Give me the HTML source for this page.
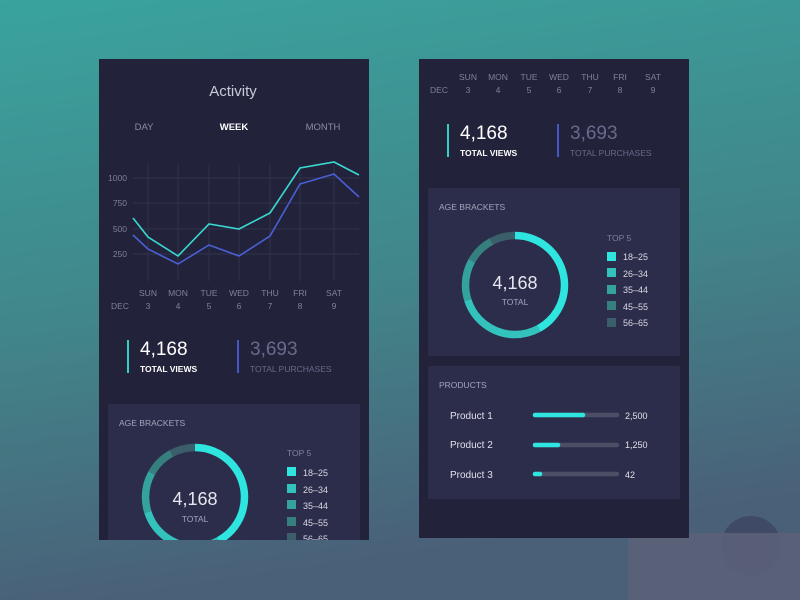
<!DOCTYPE html>
<html><head><meta charset="utf-8"><style>
html,body{margin:0;padding:0;width:800px;height:600px;overflow:hidden}
svg{display:block}
text{font-family:"Liberation Sans",sans-serif}
</style></head><body>
<svg width="800" height="600" viewBox="0 0 800 600" xmlns="http://www.w3.org/2000/svg">
<defs>
<linearGradient id="bg" x1="0" y1="0" x2="0.2" y2="1">
<stop offset="0" stop-color="#3aa39d"/><stop offset="0.55" stop-color="#418589"/><stop offset="1" stop-color="#4a5f78"/>
</linearGradient>
<clipPath id="lc"><rect x="99" y="59" width="270" height="481"/></clipPath>
</defs>
<rect width="800" height="600" fill="url(#bg)"/>
<circle cx="751" cy="546" r="30" fill="#3f4a66"/>
<rect x="628" y="533" width="172" height="67" fill="#5c6279" opacity="0.85"/>
<!-- LEFT PANEL -->
<rect x="99" y="59" width="270" height="481" fill="#22233a"/>
<g clip-path="url(#lc)">
<text x="233" y="96" fill="#c9cad8" font-size="15" text-anchor="middle">Activity</text>
<text x="144" y="130" fill="#8a8ca4" font-size="9.5" text-anchor="middle">DAY</text>
<text x="234" y="130" fill="#ffffff" font-size="9.5" font-weight="bold" text-anchor="middle">WEEK</text>
<text x="323" y="130" fill="#8a8ca4" font-size="9.5" text-anchor="middle">MONTH</text>
<g stroke="#30324e" stroke-width="1">
<line x1="133" y1="178" x2="359" y2="178"/><line x1="133" y1="203" x2="359" y2="203"/>
<line x1="133" y1="229" x2="359" y2="229"/><line x1="133" y1="254" x2="359" y2="254"/>
<line x1="148" y1="165" x2="148" y2="281"/><line x1="178" y1="165" x2="178" y2="281"/>
<line x1="209" y1="165" x2="209" y2="281"/><line x1="239" y1="165" x2="239" y2="281"/>
<line x1="270" y1="165" x2="270" y2="281"/><line x1="300" y1="165" x2="300" y2="281"/>
<line x1="334" y1="165" x2="334" y2="281"/>
</g>
<g fill="#7f8199" font-size="8.5" text-anchor="end">
<text x="127" y="181">1000</text><text x="127" y="206">750</text><text x="127" y="232">500</text><text x="127" y="257">250</text>
</g>
<polyline points="133,218 148,237 178,256 209,224 239,229 270,213 300,168 334,162 359,175" fill="none" stroke="#3ad9d0" stroke-width="1.6"/>
<polyline points="133,235 148,249 178,264 209,245 239,256 270,236 300,184 334,174 359,197" fill="none" stroke="#4a5fd6" stroke-width="1.6"/>
<g fill="#7f8199" font-size="8.5" text-anchor="middle">
<text x="148" y="296">SUN</text><text x="178" y="296">MON</text><text x="209" y="296">TUE</text><text x="239" y="296">WED</text><text x="270" y="296">THU</text><text x="300" y="296">FRI</text><text x="334" y="296">SAT</text>
<text x="120" y="309">DEC</text><text x="148" y="309">3</text><text x="178" y="309">4</text><text x="209" y="309">5</text><text x="239" y="309">6</text><text x="270" y="309">7</text><text x="300" y="309">8</text><text x="334" y="309">9</text>
</g>
<rect x="127" y="340" width="2" height="33" fill="#33cfc6"/>
<text x="140" y="355" fill="#ffffff" font-size="19">4,168</text>
<text x="140" y="372" fill="#ffffff" font-size="8.5" font-weight="bold">TOTAL VIEWS</text>
<rect x="237" y="340" width="2" height="33" fill="#4457c6"/>
<text x="250" y="355" fill="#686a8a" font-size="19">3,693</text>
<text x="250" y="372" fill="#686a8a" font-size="8.5">TOTAL PURCHASES</text>
<rect x="108" y="404" width="252" height="150" rx="2" fill="#2c2d4b"/>
<text x="119" y="426" fill="#a4a6bc" font-size="8.5">AGE BRACKETS</text>
<g transform="translate(195,497) rotate(-90)" fill="none" stroke-width="7.5">
<circle r="49.5" stroke="#2ee6df" stroke-dasharray="130.6 400"/>
<circle r="49.5" stroke="#34c3bc" stroke-dasharray="0 130.6 87 400"/>
<circle r="49.5" stroke="#35a39d" stroke-dasharray="0 217.6 40.4 400"/>
<circle r="49.5" stroke="#35807f" stroke-dasharray="0 258 28 400"/>
<circle r="49.5" stroke="#3b5f6a" stroke-dasharray="0 286 25 400"/>
</g>
<text x="195" y="505" fill="#e6e7f0" font-size="18" text-anchor="middle">4,168</text>
<text x="195" y="522" fill="#a4a6bc" font-size="8.5" text-anchor="middle">TOTAL</text>
<text x="287" y="456" fill="#7f8199" font-size="8.5">TOP 5</text>
<g font-size="9" fill="#d8d9e4">
<rect x="287" y="467" width="9" height="9" fill="#2ee6df"/><text x="303" y="476">18–25</text>
<rect x="287" y="484" width="9" height="9" fill="#34c3bc"/><text x="303" y="493">26–34</text>
<rect x="287" y="500" width="9" height="9" fill="#35a39d"/><text x="303" y="509">35–44</text>
<rect x="287" y="517" width="9" height="9" fill="#35807f"/><text x="303" y="526">45–55</text>
<rect x="287" y="533" width="9" height="9" fill="#3b5f6a"/><text x="303" y="542">56–65</text>
</g>
</g>
<!-- RIGHT PANEL -->
<rect x="419" y="59" width="270" height="479" fill="#22233a"/>
<g fill="#7f8199" font-size="8.5" text-anchor="middle">
<text x="468" y="80">SUN</text><text x="498" y="80">MON</text><text x="529" y="80">TUE</text><text x="559" y="80">WED</text><text x="590" y="80">THU</text><text x="620" y="80">FRI</text><text x="653" y="80">SAT</text>
<text x="439" y="93">DEC</text><text x="468" y="93">3</text><text x="498" y="93">4</text><text x="529" y="93">5</text><text x="559" y="93">6</text><text x="590" y="93">7</text><text x="620" y="93">8</text><text x="653" y="93">9</text>
</g>
<rect x="447" y="124" width="2" height="33" fill="#33cfc6"/>
<text x="460" y="139" fill="#ffffff" font-size="19">4,168</text>
<text x="460" y="156" fill="#ffffff" font-size="8.5" font-weight="bold">TOTAL VIEWS</text>
<rect x="557" y="124" width="2" height="33" fill="#4457c6"/>
<text x="570" y="139" fill="#686a8a" font-size="19">3,693</text>
<text x="570" y="156" fill="#686a8a" font-size="8.5">TOTAL PURCHASES</text>
<rect x="428" y="188" width="252" height="168" rx="2" fill="#2c2d4b"/>
<text x="439" y="210" fill="#a4a6bc" font-size="8.5">AGE BRACKETS</text>
<g transform="translate(515,285) rotate(-90)" fill="none" stroke-width="7.5">
<circle r="49.5" stroke="#2ee6df" stroke-dasharray="130.6 400"/>
<circle r="49.5" stroke="#34c3bc" stroke-dasharray="0 130.6 87 400"/>
<circle r="49.5" stroke="#35a39d" stroke-dasharray="0 217.6 40.4 400"/>
<circle r="49.5" stroke="#35807f" stroke-dasharray="0 258 28 400"/>
<circle r="49.5" stroke="#3b5f6a" stroke-dasharray="0 286 25 400"/>
</g>
<text x="515" y="289" fill="#e6e7f0" font-size="18" text-anchor="middle">4,168</text>
<text x="515" y="305" fill="#a4a6bc" font-size="8.5" text-anchor="middle">TOTAL</text>
<text x="607" y="241" fill="#7f8199" font-size="8.5">TOP 5</text>
<g font-size="9" fill="#d8d9e4">
<rect x="607" y="252" width="9" height="9" fill="#2ee6df"/><text x="623" y="260">18–25</text>
<rect x="607" y="268" width="9" height="9" fill="#34c3bc"/><text x="623" y="277">26–34</text>
<rect x="607" y="285" width="9" height="9" fill="#35a39d"/><text x="623" y="293">35–44</text>
<rect x="607" y="301" width="9" height="9" fill="#35807f"/><text x="623" y="310">45–55</text>
<rect x="607" y="318" width="9" height="9" fill="#3b5f6a"/><text x="623" y="326">56–65</text>
</g>
<rect x="428" y="366" width="252" height="133" rx="2" fill="#2c2d4b"/>
<text x="439" y="388" fill="#a4a6bc" font-size="8.5">PRODUCTS</text>
<g font-size="10" fill="#e0e1ea">
<text x="450" y="419">Product 1</text><text x="450" y="448">Product 2</text><text x="450" y="478">Product 3</text>
<text x="625" y="419" font-size="9">2,500</text><text x="625" y="448" font-size="9">1,250</text><text x="625" y="478" font-size="9">42</text>
</g>
<g stroke-linecap="round" stroke-width="4.5">
<line x1="535" y1="415" x2="617" y2="415" stroke="#4a4f66"/><line x1="535" y1="415" x2="583" y2="415" stroke="#2ee6df"/>
<line x1="535" y1="445" x2="617" y2="445" stroke="#4a4f66"/><line x1="535" y1="445" x2="558" y2="445" stroke="#2ee6df"/>
<line x1="535" y1="474" x2="617" y2="474" stroke="#4a4f66"/><line x1="535" y1="474" x2="540" y2="474" stroke="#2ee6df"/>
</g>
</svg>
</body></html>
